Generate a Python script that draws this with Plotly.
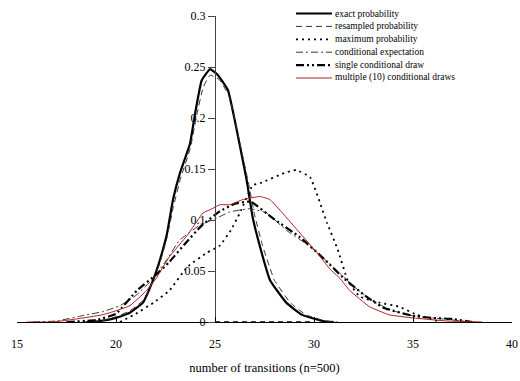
import plotly.graph_objects as go

# ---------------- data ----------------
series_names = [
    "exact probability",
    "resampled probability",
    "maximum probability",
    "conditional expectation",
    "single conditional draw",
    "multiple (10) conditional draws",
]

exact_x = [18.5, 19.2, 20.0, 20.7, 21.36, 21.87, 22.22, 22.58, 22.88, 23.23, 23.74, 24.0, 24.33, 24.75,
           25.15, 25.66, 26.1, 26.6, 26.9, 27.27, 27.78, 28.6, 29.4, 30.45, 31.0]
exact_y = [0.0, 0.001, 0.004, 0.009, 0.019, 0.041, 0.061, 0.087, 0.12, 0.146, 0.175, 0.205, 0.237, 0.248,
           0.242, 0.227, 0.188, 0.139, 0.103, 0.074, 0.041, 0.019, 0.007, 0.001, 0.0]

resampled_x = [18.3, 19.2, 20.0, 20.7, 21.36, 21.87, 22.22, 22.58, 22.9, 23.25, 23.75, 24.05, 24.4, 24.75,
               25.2, 25.7, 26.15, 26.65, 27.0, 27.4, 28.0, 28.8, 29.6, 30.6, 31.2]
resampled_y = [0.0, 0.001, 0.005, 0.011, 0.021, 0.040, 0.058, 0.083, 0.113, 0.140, 0.170, 0.200, 0.230, 0.242,
               0.238, 0.222, 0.185, 0.140, 0.105, 0.075, 0.041, 0.019, 0.007, 0.001, 0.0]
resampled_zero_x = [25.0, 30.0]
resampled_zero_y = [0.0, 0.0]

maxprob_x = [20.2, 21.0, 21.9, 22.7, 23.6, 24.6, 25.25, 25.8, 26.26, 26.9, 27.27, 28.5, 29.1, 29.8,
             30.66, 31.2, 31.7, 32.3, 33.3, 34.3, 35.2, 36.4]
maxprob_y = [0.0, 0.008, 0.019, 0.031, 0.054, 0.068, 0.075, 0.090, 0.107, 0.134, 0.136, 0.146, 0.149, 0.142,
             0.097, 0.071, 0.041, 0.025, 0.019, 0.015, 0.007, 0.0]

condexp_x = [15.8, 17.0, 18.5, 19.3, 20.2, 21.0, 21.8, 22.6, 23.2, 24.24, 25.1, 25.76, 26.77, 27.6, 28.6,
             29.8, 30.96, 32.0, 33.0, 34.0, 35.0, 36.5, 38.0]
condexp_y = [0.0, 0.001, 0.007, 0.010, 0.016, 0.026, 0.041, 0.062, 0.080, 0.095, 0.102, 0.108, 0.111, 0.107,
             0.090, 0.074, 0.054, 0.035, 0.020, 0.011, 0.006, 0.003, 0.0]

single_x = [17.5, 19.0, 20.0, 21.06, 22.0, 22.7, 23.5, 24.3, 25.2, 26.0, 26.8, 27.9, 29.3, 30.5, 31.5,
            32.5, 33.5, 35.0, 36.0, 37.0, 38.0]
single_y = [0.0, 0.002, 0.008, 0.031, 0.046, 0.059, 0.077, 0.094, 0.108, 0.116, 0.118, 0.102, 0.083, 0.062,
            0.043, 0.027, 0.014, 0.006, 0.004, 0.003, 0.0]

multi_x = [15.5, 16.8, 18.0, 19.3, 20.0, 20.7, 21.5, 22.0, 22.7, 23.6, 24.4, 24.75, 25.25, 25.76, 26.4,
           27.27, 27.78, 28.4, 29.3, 30.15, 30.8, 31.3, 31.8, 32.8, 33.8, 35.0, 36.7, 38.5]
multi_y = [0.0, 0.0, 0.003, 0.007, 0.011, 0.016, 0.030, 0.042, 0.064, 0.085, 0.107, 0.110, 0.115, 0.115,
           0.120, 0.123, 0.120, 0.107, 0.087, 0.068, 0.052, 0.043, 0.031, 0.015, 0.007, 0.004, 0.001, 0.0]

x_ticks = [15, 20, 25, 30, 35, 40]
y_ticks = [0, 0.05, 0.1, 0.15, 0.2, 0.25, 0.3]
y_tick_labels = ["0", "0.05", "0.1", "0.15", "0.2", "0.25", "0.3"]
x_title = "number of transitions (n=500)"

# ---------------- styles ----------------
FONT = "Times New Roman, Liberation Serif, DejaVu Serif, serif"
styles = [
    dict(color="black", width=2.2, dash="solid"),
    dict(color="#333333", width=1.0, dash="6px,4px"),
    dict(color="black", width=1.8, dash="2px,4px"),
    dict(color="#222222", width=0.9, dash="7px,3px,2px,3px"),
    dict(color="black", width=2.2, dash="8px,3px,2px,3px,2px,3px"),
    dict(color="#b01e1e", width=1.0, dash="solid"),
]
data = [
    (exact_x, exact_y),
    (resampled_x, resampled_y),
    (maxprob_x, maxprob_y),
    (condexp_x, condexp_y),
    (single_x, single_y),
    (multi_x, multi_y),
]

fig = go.Figure()
for (xs, ys), st, name in zip(data, styles, series_names):
    fig.add_trace(go.Scatter(x=xs, y=ys, mode="lines", name=name, showlegend=False,
                             line=dict(color=st["color"], width=st["width"], dash=st["dash"],
                                       shape="spline", smoothing=0.35)))
fig.add_trace(go.Scatter(x=resampled_zero_x, y=resampled_zero_y, mode="lines", showlegend=False,
                         line=dict(color="black", width=1.6, dash="5px,4px")))

# ---------------- manual legend (compact rows) ----------------
W, H = 520, 381
ml, mr, mt, mb = 17, 8, 16, 59
pw, ph = W - ml - mr, H - mt - mb

def px2paper(px, py):
    return (px - ml) / pw, (H - mb - py) / ph

for i, (name, st) in enumerate(zip(series_names, styles)):
    py = 13.5 + 12.9 * i
    x0, yy = px2paper(296, py)
    x1, _ = px2paper(332, py)
    fig.add_shape(type="line", xref="paper", yref="paper", x0=x0, x1=x1, y0=yy, y1=yy,
                  line=dict(color=st["color"], width=st["width"], dash=st["dash"]))
    xt, _ = px2paper(333, py)
    fig.add_annotation(xref="paper", yref="paper", x=xt, y=yy, text=name, showarrow=False,
                       xanchor="left", yanchor="middle", xshift=0,
                       font=dict(family=FONT, size=9.5, color="black"))

fig.update_layout(
    width=W, height=H,
    margin=dict(l=ml, r=mr, t=mt, b=mb),
    paper_bgcolor="white", plot_bgcolor="white",
    showlegend=False,
    font=dict(family=FONT, size=12, color="black"),
    xaxis=dict(range=[15, 40], tickvals=x_ticks, ticks="inside", ticklen=5, tickcolor="black",
               showline=True, linecolor="black", linewidth=1, showgrid=False, zeroline=False,
               ticklabelstandoff=11, automargin=False,
               tickfont=dict(family=FONT, size=12),
               title=dict(text=x_title, standoff=12, font=dict(family=FONT, size=12.5))),
    yaxis=dict(range=[0, 0.3], tickvals=y_ticks, ticktext=y_tick_labels, ticks="outside", ticklen=7,
               tickcolor="#444444", showline=True, linecolor="#444444", linewidth=1,
               tickfont=dict(family=FONT, size=12),
               showgrid=False, zeroline=False, anchor="free", position=0.4, automargin=False),
)

fig.write_html("out.html")
